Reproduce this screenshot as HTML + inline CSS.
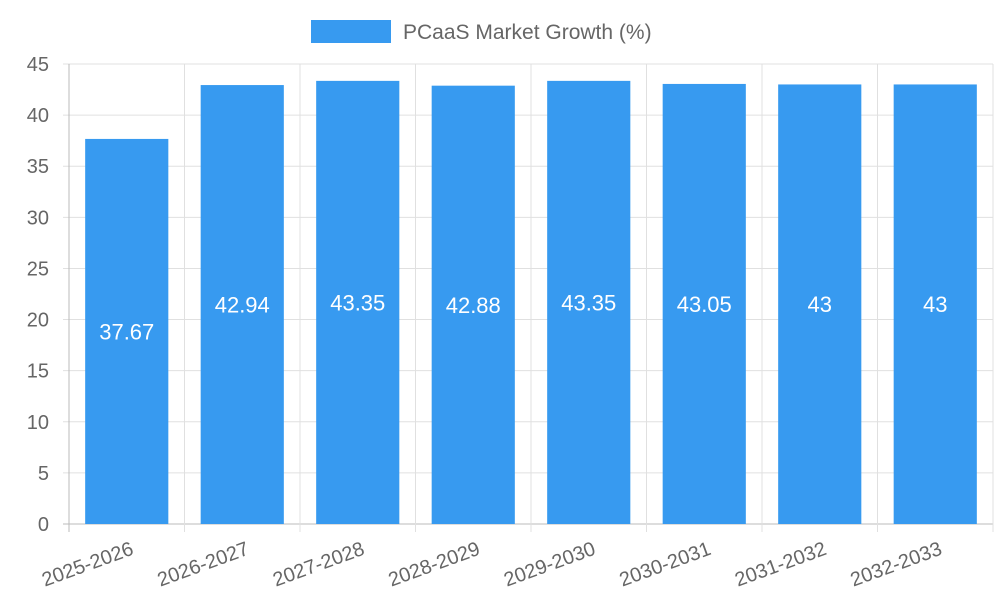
<!DOCTYPE html>
<html><head><meta charset="utf-8"><style>
html,body{margin:0;padding:0;background:#fff;}
svg text{font-family:"Liberation Sans",sans-serif;}
</style></head><body>
<svg id="chart" width="1000" height="600" xmlns="http://www.w3.org/2000/svg">
<g>
<rect x="311" y="20" width="80" height="23" fill="#379AF0"/>
<text x="403" y="39" font-size="21" fill="#666">PCaaS Market Growth (%)</text>
</g>
<g id="grid"></g>
<g id="bars"></g>
<g id="axes"></g>
</svg>
<script>
const categories = ["2025-2026","2026-2027","2027-2028","2028-2029","2029-2030","2030-2031","2031-2032","2032-2033"];
const values = [37.67,42.94,43.35,42.88,43.35,43.05,43,43];
const yTicks = [0,5,10,15,20,25,30,35,40,45];

const NS="http://www.w3.org/2000/svg";
const L=69,R=993,T=64,B=524,YMAX=45;
const bw=(R-L)/categories.length;
const y=v=>B-(v/YMAX)*(B-T);
const x=i=>L+i*bw;
function mk(tag,attrs,parent,text){const e=document.createElementNS(NS,tag);for(const k in attrs)e.setAttribute(k,attrs[k]);if(text!==undefined)e.textContent=text;document.getElementById(parent).appendChild(e);return e;}
yTicks.forEach(t=>{
  const g=mk('line',{x1:L-6,x2:R,y1:y(t),y2:y(t),stroke:t===0?'#bbb':'#e0e0e0','stroke-width':1},'grid');
  
  
  const lb=mk('text',{x:L-20,y:y(t)+7,'font-size':20,fill:'#666','text-anchor':'end'},'axes',String(t));
  
  
});
for(let i=0;i<=categories.length;i++){
  const g=mk('line',{x1:x(i),x2:x(i),y1:T,y2:B+8,stroke:i===0?'#bbb':'#e0e0e0','stroke-width':1},'grid');
  
  
}
categories.forEach((c,i)=>{
  const w=bw*0.72, bx=x(i)+(bw-w)/2, top=y(values[i]);
  const r=mk('rect',{x:bx,y:top,width:w,height:B-top,fill:'#379AF0'},'bars');
  
  
  const v=mk('text',{x:bx+w/2,y:(top+B)/2+8,'font-size':22,fill:'#fff','text-anchor':'middle'},'bars',String(values[i]));
  
  
  const cx=x(i)+bw/2+8, cy=B+30;
  const lb=mk('text',{x:cx,y:cy,'font-size':20,fill:'#666','text-anchor':'end',transform:`rotate(-20 ${cx} ${cy})`},'axes',c);
  
  
});
</script>
</body></html>
